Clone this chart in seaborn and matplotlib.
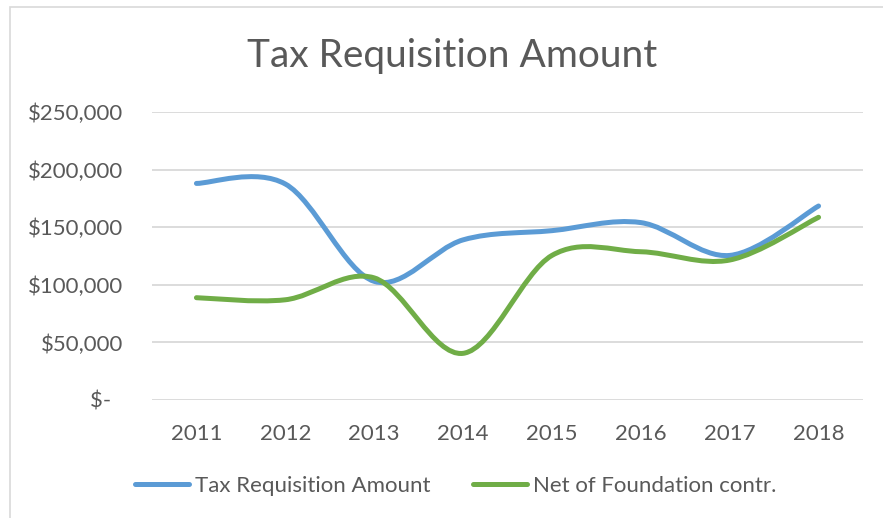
import seaborn as sns
import matplotlib
matplotlib.use("Agg")
import matplotlib.pyplot as plt
from matplotlib.path import Path
from matplotlib.patches import PathPatch, Rectangle
from matplotlib.lines import Line2D

years = ["2011", "2012", "2013", "2014", "2015", "2016", "2017", "2018"]
tax_requisition = [188000, 187500, 103000, 139000, 147000, 154000, 125500, 168400]
net_of_foundation = [88800, 87000, 106000, 40500, 125500, 128700, 121500, 158600]
y_ticks = [0, 50000, 100000, 150000, 200000, 250000]
y_tick_labels = ["$-  ", "$50,000", "$100,000", "$150,000", "$200,000", "$250,000"]
series_names = ["Tax Requisition Amount", "Net of Foundation contr."]

BLUE = "#5B9BD5"
GREEN = "#70AD47"
TEXT = "#595959"
GRID = "#D9D9D9"

sns.set_style("white")
plt.rcParams['font.family'] = ['Lato', 'DejaVu Sans']


def smooth_path(xs, ys):
    # excel-like smoothed line: cubic bezier through the points
    verts = [(xs[0], ys[0])]
    codes = [Path.MOVETO]
    n = len(xs)
    for i in range(n - 1):
        x0, y0 = (xs[i - 1], ys[i - 1]) if i > 0 else (xs[i], ys[i])
        x1, y1 = xs[i], ys[i]
        x2, y2 = xs[i + 1], ys[i + 1]
        x3, y3 = (xs[i + 2], ys[i + 2]) if i + 2 < n else (x2, y2)
        c1 = (x1 + (x2 - x0) / 6, y1 + (y2 - y0) / 6)
        c2 = (x2 - (x3 - x1) / 6, y2 - (y3 - y1) / 6)
        verts += [c1, c2, (x2, y2)]
        codes += [Path.CURVE4] * 3
    return Path(verts, codes)


fig = plt.figure(figsize=(8.83, 5.18), dpi=100)
ax = fig.add_axes([152 / 883, 1 - 400 / 518, (863 - 152) / 883, (400 - 112) / 518])

xs = list(range(len(years)))
for vals, color in [(tax_requisition, BLUE), (net_of_foundation, GREEN)]:
    patch = PathPatch(smooth_path(xs, vals), facecolor="none", edgecolor=color,
                      linewidth=3.6, capstyle="round", joinstyle="round", zorder=3)
    ax.add_patch(patch)

ax.set_xlim(-0.5, len(years) - 0.5)
ax.set_ylim(0, 250000)
ax.set_xticks(xs)
ax.set_xticklabels(years)
ax.set_yticks(y_ticks)
ax.set_yticklabels(y_tick_labels)
ax.grid(axis="y", color=GRID, linewidth=1.3)
ax.set_axisbelow(True)
sns.despine(ax=ax, left=True, bottom=True, top=True, right=True)
ax.tick_params(axis="both", length=0, labelsize=16, colors=TEXT)
ax.tick_params(axis="y", pad=21)
ax.tick_params(axis="x", pad=17)

fig.text(452 / 883, 1 - 56 / 518, "Tax Requisition Amount", ha="center", va="center",
         fontsize=28, color=TEXT)

handles = [Line2D([], [], color=BLUE, linewidth=3.6, solid_capstyle="round"),
           Line2D([], [], color=GREEN, linewidth=3.6, solid_capstyle="round")]
leg = fig.legend(handles, series_names, loc="center", bbox_to_anchor=(456 / 883, 1 - 486 / 518),
                 ncol=2, frameon=False, fontsize=16, handlelength=2.4, handletextpad=0.3,
                 columnspacing=1.9, labelcolor=TEXT)

fig.patches.append(Rectangle((9.5 / 883, -0.5), 2, 0.5 + 1 - 7 / 518, transform=fig.transFigure,
                             facecolor="none", edgecolor=GRID, linewidth=1.2))

fig.savefig("out.png", dpi=100, facecolor="white")
